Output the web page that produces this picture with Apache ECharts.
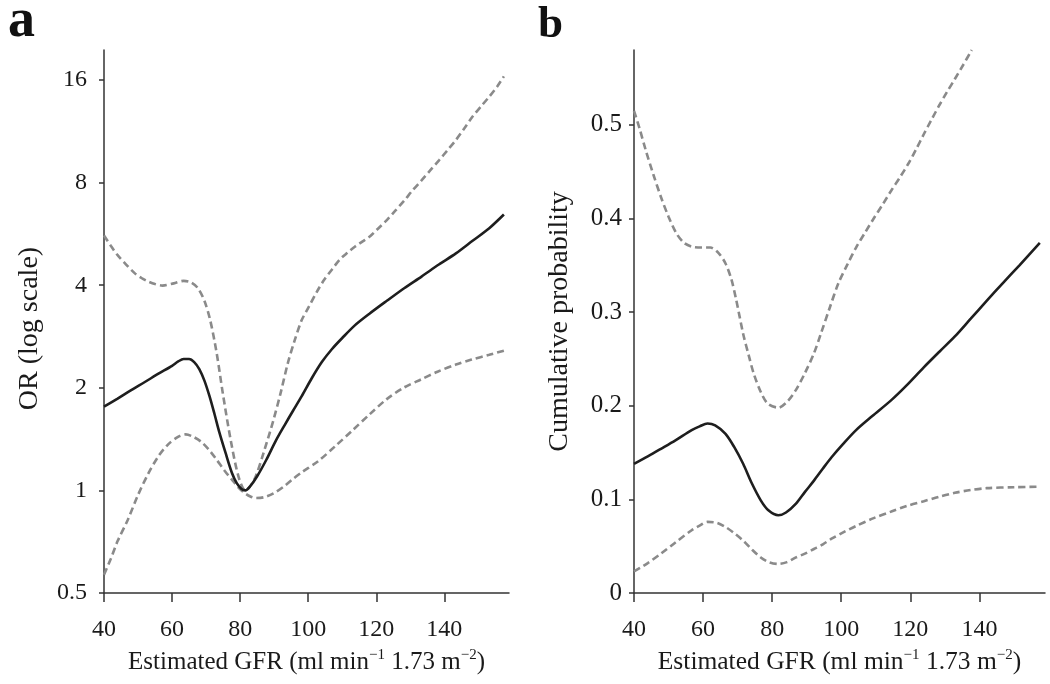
<!DOCTYPE html>
<html>
<head>
<meta charset="utf-8">
<script src="https://cdn.jsdelivr.net/npm/echarts@6/dist/echarts.min.js"></script>
<style>html,body{margin:0;padding:0;background:#fff}#c{width:1050px;height:684px}</style>
</head>
<body>
<div id="c"></div>
<script>
// ---- Data ----
const xTicks = [40, 60, 80, 100, 120, 140];
const orTicks = [0.5, 1, 2, 4, 8, 16];
const probTicks = [0, 0.1, 0.2, 0.3, 0.4, 0.5];

// Panel a: odds ratio (log scale) vs estimated GFR
const orEstimate = [[40,1.76],[44,1.86],[48,1.97],[52,2.08],[56,2.2],[60,2.32],[61.8,2.39],[63.4,2.43],[65,2.43],[66.5,2.38],[68,2.27],[69.5,2.1],[71,1.89],[72.5,1.67],[73.9,1.48],[75.7,1.29],[77.6,1.125],[79,1.05],[80.4,1.01],[81.5,1.0],[83,1.03],[85,1.1],[87.7,1.23],[90.5,1.4],[93,1.55],[95.5,1.71],[98.1,1.89],[101,2.13],[104,2.38],[107,2.6],[110,2.8],[113.7,3.05],[118,3.3],[123.1,3.6],[128.2,3.92],[133.3,4.24],[138.4,4.6],[143.4,4.96],[148.3,5.4],[153.2,5.88],[157.5,6.45]];
const orUpper = [[40,5.6],[42,5.22],[44,4.9],[46.5,4.6],[49,4.34],[51,4.2],[53,4.1],[55,4.03],[57.2,3.99],[60.5,4.05],[63.4,4.12],[65.5,4.08],[67.6,3.92],[69.5,3.6],[71.2,3.16],[73.1,2.53],[74.9,1.93],[77.2,1.41],[79.5,1.1],[81.5,1.0],[83,1.03],[84.6,1.1],[87,1.3],[89.8,1.61],[92,1.95],[94,2.36],[96,2.75],[98.1,3.16],[100.2,3.46],[102.5,3.82],[104.7,4.15],[107,4.45],[109.2,4.75],[111.5,4.98],[113.7,5.19],[116,5.38],[118.2,5.57],[120.5,5.86],[123.1,6.21],[125.6,6.62],[128.2,7.08],[130.7,7.6],[133.3,8.12],[135.9,8.7],[138.5,9.32],[141,9.98],[143.4,10.67],[145.9,11.55],[148.3,12.5],[150.8,13.4],[153.2,14.3],[155.5,15.3],[157.5,16.4]];
const orLower = [[40,0.566],[42,0.63],[44,0.71],[47,0.82],[50,0.97],[53,1.12],[56,1.26],[59,1.37],[62,1.44],[64,1.46],[66,1.44],[68.5,1.39],[71,1.31],[73.1,1.23],[75.5,1.14],[77.6,1.075],[79.5,1.02],[81.5,0.98],[83,0.96],[84.6,0.95],[87,0.955],[89.8,0.98],[93,1.03],[95.5,1.08],[98.1,1.13],[103,1.22],[108,1.35],[113,1.5],[118,1.67],[123,1.85],[128,2.0],[133.3,2.12],[138,2.23],[143.4,2.34],[148,2.42],[153.2,2.5],[157.5,2.57]];

// Panel b: cumulative probability vs estimated GFR
const probEstimate = [[40,0.138],[44,0.146],[47.8,0.154],[52,0.163],[56.7,0.174],[59,0.178],[61.3,0.181],[63.5,0.179],[66.5,0.170],[69,0.156],[71.6,0.138],[74,0.118],[76.7,0.099],[79,0.088],[81.8,0.083],[84,0.086],[86.9,0.0955],[89.5,0.108],[92.1,0.12],[94.7,0.133],[97.2,0.145],[100.5,0.159],[104.3,0.174],[109,0.189],[114.5,0.206],[119,0.222],[123.9,0.241],[128.5,0.258],[132.9,0.274],[137.5,0.293],[142.1,0.312],[146.8,0.331],[151.6,0.350],[157.5,0.374]];
const probUpper = [[40,0.515],[41.7,0.495],[43.4,0.473],[45.6,0.447],[47.8,0.423],[50,0.402],[52.3,0.384],[54.5,0.374],[56.7,0.37],[59.5,0.369],[62.1,0.369],[64.5,0.363],[66.5,0.352],[68.2,0.335],[69.6,0.313],[71.6,0.277],[73.2,0.254],[74.7,0.234],[76.8,0.214],[78.8,0.202],[81.8,0.198],[84.5,0.205],[86.9,0.217],[89.5,0.235],[92.1,0.256],[94.2,0.278],[96.7,0.305],[99.2,0.331],[101.8,0.351],[104.3,0.369],[106.9,0.385],[109.4,0.400],[112,0.415],[114.5,0.430],[117,0.444],[119.5,0.459],[121.7,0.474],[123.9,0.49],[126.2,0.506],[128.4,0.521],[130.6,0.535],[132.9,0.549],[135.3,0.564],[137.8,0.58]];
const probLower = [[40,0.023],[44,0.032],[47.8,0.042],[52,0.054],[56.7,0.067],[59,0.072],[61.3,0.076],[64,0.075],[66.5,0.0705],[69,0.064],[71.6,0.056],[74,0.047],[76.7,0.038],[79,0.033],[81.8,0.031],[84.3,0.033],[86.9,0.038],[89.5,0.042],[92.1,0.047],[94.7,0.052],[97.2,0.058],[100.7,0.065],[104.3,0.0716],[109.4,0.080],[114.5,0.087],[119,0.093],[123.9,0.098],[128.5,0.103],[132.9,0.107],[137.5,0.110],[142.1,0.112],[150,0.113],[157.5,0.1136]];

const SERIF = '"Liberation Serif", "Times New Roman", serif';
const TXT = '#1a1a1a';
const AXC = '#333';

const gfrName = '{t|Estimated GFR (ml min}{s|−1}{t| 1.73 m}{s|−2}{t|)}';
function gfrRich(size) {
  return {
    t: {fontSize: size, fontFamily: SERIF, color: TXT, lineHeight: size + 4},
    s: {fontSize: Math.round(size * 0.6), fontFamily: SERIF, color: TXT, lineHeight: Math.round(size * 0.6), verticalAlign: 'top'}
  };
}

function xAxisCfg(gridIndex, nameSize) {
  return {
    type: 'value', gridIndex: gridIndex, min: 40, max: 159,
    name: gfrName, nameLocation: 'middle', nameGap: 55,
    nameTextStyle: {rich: gfrRich(nameSize)},
    axisLine: {show: true, lineStyle: {color: AXC, width: 1.5}},
    axisTick: {show: true, length: 9, customValues: xTicks, lineStyle: {color: AXC, width: 1.5}},
    axisLabel: {customValues: xTicks, margin: 25, fontSize: 24, fontFamily: SERIF, color: TXT},
    splitLine: {show: false}
  };
}

const dashStyle = {color: '#8a8a8a', width: 2.6, type: [7, 4]};
const solidStyle = {color: '#1e1e1e', width: 2.6};

function lineSeries(data, xi, yi, style) {
  return {
    type: 'line', xAxisIndex: xi, yAxisIndex: yi, data: data,
    smooth: 0.3, showSymbol: false, symbol: 'none', lineStyle: style,
    clip: true, silent: true, animation: false
  };
}

const chart = echarts.init(document.getElementById('c'), null, {renderer: 'canvas'});
chart.setOption({
  backgroundColor: '#ffffff',
  animation: false,
  title: [
    {text: 'a', left: 8, top: -5, padding: 0, textStyle: {fontSize: 54, fontWeight: 'bold', fontFamily: SERIF, color: '#111'}},
    {text: 'b', left: 538, top: 3, padding: 0, textStyle: {fontSize: 45, fontWeight: 'bold', fontFamily: SERIF, color: '#111'}}
  ],
  grid: [
    {left: 104, top: 50, width: 405, height: 543},
    {left: 634, top: 50, width: 411, height: 543}
  ],
  xAxis: [xAxisCfg(0, 25), xAxisCfg(1, 25.5)],
  yAxis: [
    {
      type: 'log', logBase: 2, gridIndex: 0, min: 0.5, max: 19.6,
      name: 'OR (log scale)', nameLocation: 'middle', nameGap: 60,
      nameTextStyle: {fontSize: 28, fontFamily: SERIF, color: TXT, padding: [0, 14, 0, 0]},
      axisLine: {show: true, lineStyle: {color: AXC, width: 1.5}},
      axisTick: {show: true, length: 5, customValues: orTicks, lineStyle: {color: AXC, width: 1.5}},
      axisLabel: {customValues: orTicks, margin: 17, fontSize: 24, fontFamily: SERIF, color: TXT},
      splitLine: {show: false}
    },
    {
      type: 'value', gridIndex: 1, min: 0, max: 0.58,
      name: 'Cumulative probability', nameLocation: 'middle', nameGap: 60,
      nameTextStyle: {fontSize: 28, fontFamily: SERIF, color: TXT},
      axisLine: {show: true, lineStyle: {color: AXC, width: 1.5}},
      axisTick: {show: true, length: 5, customValues: probTicks, lineStyle: {color: AXC, width: 1.5}},
      axisLabel: {customValues: probTicks, margin: 12, fontSize: 25, fontFamily: SERIF, color: TXT},
      splitLine: {show: false}
    }
  ],
  series: [
    lineSeries(orUpper, 0, 0, dashStyle),
    lineSeries(orLower, 0, 0, dashStyle),
    lineSeries(orEstimate, 0, 0, solidStyle),
    lineSeries(probUpper, 1, 1, dashStyle),
    lineSeries(probLower, 1, 1, dashStyle),
    lineSeries(probEstimate, 1, 1, solidStyle)
  ]
});
</script>
</body>
</html>
